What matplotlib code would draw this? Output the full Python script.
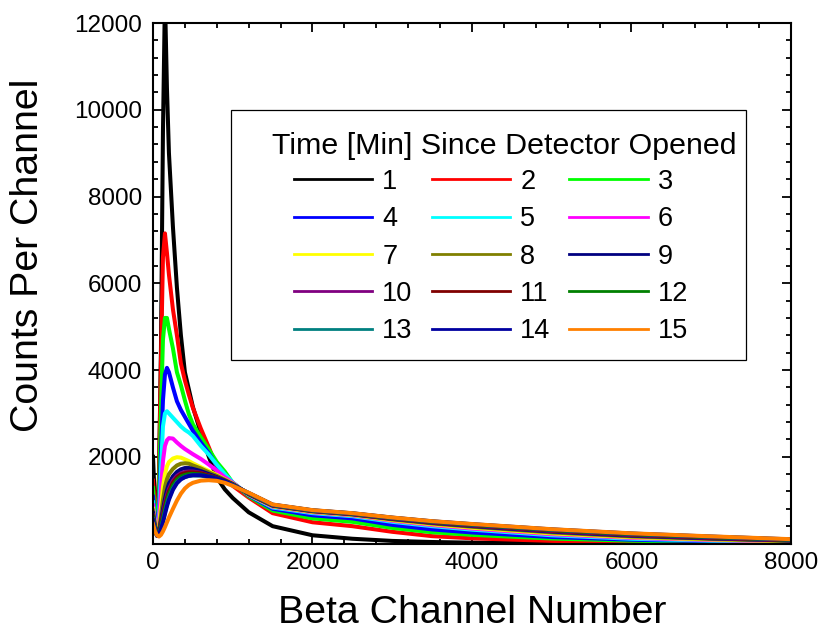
import matplotlib
matplotlib.use("Agg")
import matplotlib.pyplot as plt
from matplotlib.patches import Rectangle
from matplotlib.ticker import MultipleLocator, FuncFormatter

plt.rcParams['font.family'] = ['Liberation Sans', 'DejaVu Sans']

# Beta channel sample positions
channels = [0, 25, 50, 75, 100, 125, 150, 175, 200, 250, 300, 350, 400, 450, 500,
            600, 700, 800, 900, 1000, 1200, 1500, 2000, 2500, 3000, 3500, 4000,
            5000, 6000, 7000, 8000]

labels = [str(i) for i in range(1, 16)]
colors = ['#000000', '#FF0000', '#00FF00', '#0000FF', '#00FFFF', '#FF00FF',
          '#FFFF00', '#808000', '#000080', '#800080', '#800000', '#008000',
          '#008080', '#0000A0', '#FF8000']
legend_title = 'Time [Min] Since Detector Opened'

t1 = [2000, 900, 350, 1500, 4500, 9500, 12600, 10500, 9000, 7300, 5900, 4800, 3950, 3550, 3150,
      2550, 2000, 1520, 1250, 1050, 720, 400, 190, 110, 60, 35, 20, 10, 5, 3, 2]
t2 = [1450, 700, 300, 1500, 4200, 6600, 7150, 6700, 6200, 5400, 4800, 4150, 3760, 3430, 3130,
      2650, 2220, 1760, 1500, 1330, 1060, 700, 490, 400, 270, 170, 120, 60, 32, 18, 10]
t3 = [1280, 650, 280, 1100, 3100, 4700, 5200, 5200, 4950, 4500, 3950, 3650, 3300, 2980, 2750,
      2450, 2170, 1880, 1660, 1400, 1090, 760, 580, 500, 360, 260, 200, 115, 65, 38, 20]
t4 = [1080, 560, 260, 750, 2100, 3300, 3900, 4050, 3950, 3600, 3280, 3080, 2920, 2760, 2600,
      2330, 2080, 1800, 1580, 1400, 1110, 800, 650, 580, 430, 325, 255, 150, 88, 52, 27]
t5 = [950, 500, 250, 600, 1700, 2700, 3000, 3050, 3000, 2900, 2800, 2700, 2620, 2560, 2480,
      2250, 2050, 1820, 1600, 1410, 1120, 830, 700, 630, 500, 400, 320, 190, 110, 65, 33]
t6 = [880, 450, 230, 500, 1250, 1900, 2250, 2380, 2430, 2420, 2330, 2250, 2180, 2120, 2060,
      1950, 1820, 1680, 1530, 1400, 1125, 850, 720, 650, 525, 425, 345, 215, 130, 80, 42]
t7 = [800, 420, 220, 380, 850, 1300, 1600, 1780, 1880, 1960, 1990, 1980, 1940, 1900, 1850,
      1760, 1670, 1580, 1480, 1385, 1130, 860, 730, 660, 540, 445, 365, 235, 145, 92, 50]
t8 = [760, 400, 210, 320, 650, 1000, 1300, 1480, 1600, 1720, 1800, 1840, 1850, 1840, 1800,
      1730, 1640, 1560, 1470, 1375, 1135, 870, 740, 668, 555, 462, 385, 255, 162, 105, 58]
t9 = [700, 380, 200, 280, 520, 780, 1030, 1230, 1380, 1550, 1650, 1710, 1740, 1740, 1720,
      1670, 1600, 1530, 1450, 1370, 1140, 875, 748, 675, 568, 478, 403, 275, 180, 118, 67]
t10 = [650, 360, 195, 260, 460, 690, 920, 1110, 1260, 1450, 1560, 1620, 1650, 1660, 1660,
       1630, 1570, 1510, 1440, 1365, 1145, 880, 752, 680, 575, 487, 415, 290, 195, 128, 74]
t11 = [620, 350, 190, 250, 430, 640, 860, 1050, 1200, 1400, 1520, 1590, 1620, 1640, 1640,
       1620, 1570, 1510, 1440, 1360, 1150, 884, 756, 685, 582, 495, 425, 303, 207, 138, 81]
t12 = [600, 340, 185, 235, 390, 580, 790, 980, 1130, 1340, 1470, 1545, 1580, 1600, 1605,
       1590, 1550, 1495, 1430, 1355, 1155, 888, 760, 690, 588, 502, 434, 313, 217, 147, 87]
t13 = [560, 320, 180, 220, 350, 520, 720, 900, 1050, 1270, 1410, 1490, 1535, 1560, 1570,
       1565, 1535, 1485, 1425, 1350, 1160, 892, 763, 694, 593, 508, 441, 320, 225, 155, 92]
t14 = [540, 310, 175, 210, 330, 490, 680, 860, 1010, 1240, 1390, 1480, 1530, 1560, 1575,
       1575, 1545, 1495, 1435, 1345, 1165, 896, 766, 697, 597, 512, 446, 326, 230, 160, 96]
t15 = [450, 280, 190, 160, 200, 280, 380, 490, 600, 800, 990, 1150, 1270, 1350, 1400,
       1450, 1460, 1445, 1400, 1330, 1170, 900, 770, 700, 600, 515, 450, 330, 235, 165, 100]

series = [t1, t2, t3, t4, t5, t6, t7, t8, t9, t10, t11, t12, t13, t14, t15]

fig = plt.figure(figsize=(8.19, 6.32), dpi=100)
ax = fig.add_axes([0.1868, 0.14, 0.779, 0.8236])

lines = []
for vals, c, lab in zip(series, colors, labels):
    ln, = ax.plot(channels, vals, color=c, lw=2.9, label=lab, solid_joinstyle='round')
    lines.append(ln)

ax.set_xlim(0, 8000)
ax.set_ylim(0, 12000)
ax.xaxis.set_major_locator(MultipleLocator(2000))
ax.xaxis.set_minor_locator(MultipleLocator(400))
ax.yaxis.set_major_locator(MultipleLocator(2000))
ax.yaxis.set_minor_locator(MultipleLocator(400))
ax.yaxis.set_major_formatter(FuncFormatter(lambda v, p: '' if v == 0 else f'{int(v)}'))
ax.tick_params(which='both', direction='in', top=True, right=True, width=1.3, colors='black')
ax.tick_params(which='major', length=6.5)
ax.tick_params(which='minor', length=3.6)
ax.tick_params(axis='x', labelsize=17.5, pad=6)
ax.tick_params(axis='y', labelsize=17.5, pad=8)
for sp in ax.spines.values():
    sp.set_linewidth(1.5)

ax.set_xlabel('Beta Channel Number', fontsize=28.3, labelpad=15)
ax.set_ylabel('Counts Per Channel', fontsize=28.3)
ax.yaxis.set_label_coords(-0.168, 0.554)

# legend ordered row by row (1 2 3 / 4 5 6 ...)
order = [0, 3, 6, 9, 12, 1, 4, 7, 10, 13, 2, 5, 8, 11, 14]
leg = ax.legend([lines[i] for i in order], [labels[i] for i in order], ncol=3,
                fontsize=19.5, frameon=False, loc='center',
                bbox_to_anchor=(0.5298, 0.5514), handlelength=2.9, handletextpad=0.37,
                columnspacing=0.7, labelspacing=0.42, borderpad=0.0)
for l in leg.get_lines():
    l.set_linewidth(2.0)

ax.text(0.551, 0.7637, legend_title, transform=ax.transAxes, fontsize=21.9,
        ha='center', va='center')

ax.add_patch(Rectangle((0.1223, 0.3525), 0.8072, 0.4803, transform=ax.transAxes,
                       fill=False, edgecolor='black', lw=0.9, zorder=5))

fig.savefig('out.png', dpi=100)
